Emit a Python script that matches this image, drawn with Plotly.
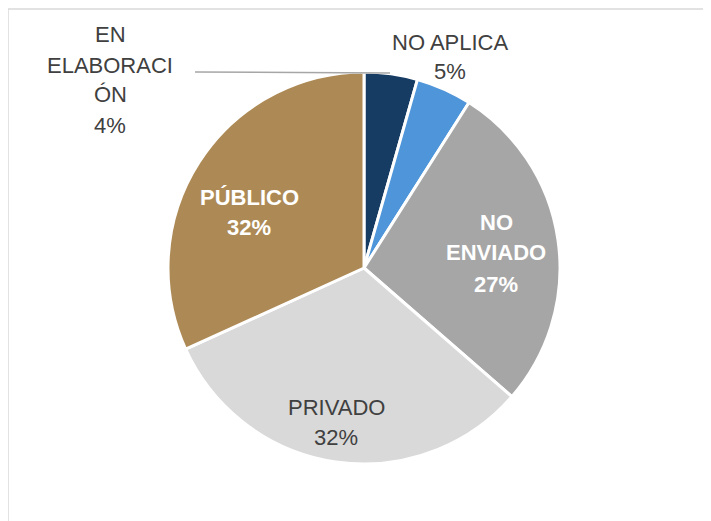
import plotly.graph_objects as go

# Data (share of each category, %)
categories = ["EN ELABORACIÓN", "NO APLICA", "NO ENVIADO", "PRIVADO", "PÚBLICO"]
shares = [4.4, 4.6, 27.4, 31.8, 31.8]
colors = ["#173c64", "#4f95d9", "#a6a6a6", "#d9d9d9", "#ad8a55"]

# label lines as drawn in the reference (label wraps, then percent)
label_lines = [
    ["EN", "ELABORACI", "ÓN"],
    ["NO APLICA"],
    ["NO", "ENVIADO"],
    ["PRIVADO"],
    ["PÚBLICO"],
]

W, H = 711, 521
OFF = 8  # page body margin pushes the figure 8px right/down
CX, CY, R = 364 - OFF, 268 - OFF, 196


def px_x(v):
    return (v - OFF) / W


def px_y(v):
    return 1 - (v - OFF) / H


fig = go.Figure(go.Pie(
    labels=categories, values=shares,
    sort=False, direction="clockwise", rotation=0,
    marker=dict(colors=colors, line=dict(color="white", width=3)),
    textinfo="none", hoverinfo="label+percent",
    domain=dict(x=[(CX - R) / W, (CX + R) / W],
                y=[1 - (CY + R) / H, 1 - (CY - R) / H]),
    showlegend=False,
))

# label anchor (center of first line, px in screenshot), line gap, bold, color
label_style = [
    ((110, 35), 30, False, "#404040"),
    ((450, 42), 30, False, "#404040"),
    ((496, 222), 31, True, "white"),
    ((336, 407), 30, False, "#404040"),
    ((249, 197), 31, True, "white"),
]

total = sum(shares)
for lines, val, ((px, py), gap, bold, col) in zip(label_lines, shares, label_style):
    pct = f"{round(val / total * 100)}%"
    for i, t in enumerate(lines + [pct]):
        txt = f"<b>{t}</b>" if bold else t
        fig.add_annotation(
            x=px_x(px), y=px_y(py + i * gap), xref="paper", yref="paper",
            text=txt, showarrow=False, xanchor="center", yanchor="middle",
            font=dict(family="Liberation Sans, Arial, sans-serif", size=22, color=col),
        )

# leader line for EN ELABORACIÓN
fig.add_shape(type="line", xref="paper", yref="paper",
              x0=px_x(195), y0=px_y(72), x1=px_x(390), y1=px_y(73),
              line=dict(color="#a6a6a6", width=1.5))

# chart frame (partly cut off at right and bottom)
fig.add_shape(type="rect", xref="paper", yref="paper",
              x0=px_x(8), y0=-0.05, x1=1.05, y1=px_y(9),
              line=dict(color="#d9d9d9", width=1.5))

fig.update_layout(
    width=W, height=H,
    margin=dict(l=0, r=0, t=0, b=0),
    paper_bgcolor="white", plot_bgcolor="white",
)

fig.write_html("out.html")
